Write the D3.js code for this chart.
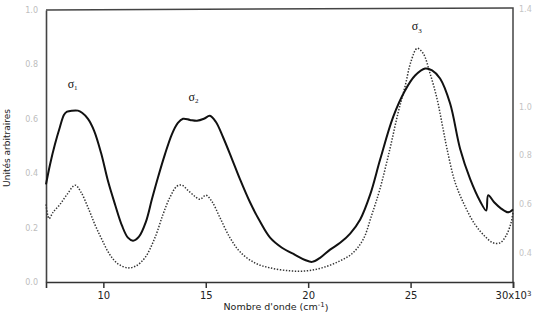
<!DOCTYPE html>
<html>
<head>
<meta charset="utf-8">
<script src="https://cdn.jsdelivr.net/npm/d3@7"></script>
<style>
  body { margin: 0; background: #fff; }
  svg { display: block; }
</style>
</head>
<body>
<svg id="chart" width="535" height="313"></svg>
<script>

// Data (wavenumber in 10^3 cm-1, intensity in arbitrary units)
const solidX = [7.20, 7.40, 7.64, 7.88, 8.08, 8.23, 8.47, 8.76, 8.96, 9.25, 9.55, 9.89, 10.23, 10.57, 10.91, 11.20, 11.45, 11.74, 12.08, 12.37, 12.67, 13.01, 13.35, 13.64, 13.89, 14.23, 14.57, 14.91, 15.20, 15.49, 15.84, 16.28, 16.67, 17.16, 17.65, 18.14, 18.72, 19.36, 19.85, 20.19, 20.58, 21.07, 21.56, 22.05, 22.54, 23.03, 23.52, 24.15, 24.73, 25.22, 25.71, 26.05, 26.44, 26.93, 27.42, 27.91, 28.40, 28.69, 28.79, 29.08, 29.42, 29.76, 30.00];
const solidY = [0.359, 0.433, 0.507, 0.570, 0.615, 0.626, 0.630, 0.630, 0.622, 0.600, 0.556, 0.474, 0.370, 0.285, 0.207, 0.163, 0.152, 0.167, 0.222, 0.304, 0.385, 0.470, 0.544, 0.585, 0.600, 0.596, 0.593, 0.600, 0.611, 0.589, 0.533, 0.452, 0.378, 0.293, 0.222, 0.163, 0.126, 0.100, 0.081, 0.074, 0.089, 0.119, 0.144, 0.178, 0.230, 0.322, 0.452, 0.607, 0.704, 0.759, 0.785, 0.778, 0.748, 0.656, 0.489, 0.378, 0.296, 0.263, 0.319, 0.293, 0.270, 0.256, 0.267];

const dottedX = [7.20, 7.35, 7.54, 7.88, 8.23, 8.62, 8.91, 9.25, 9.59, 9.93, 10.32, 10.71, 11.20, 11.59, 12.03, 12.52, 12.91, 13.25, 13.59, 13.84, 14.13, 14.47, 14.72, 15.01, 15.30, 15.69, 16.18, 16.67, 17.40, 18.14, 19.11, 19.94, 20.67, 21.45, 22.14, 22.68, 23.11, 23.50, 23.99, 24.38, 24.73, 25.02, 25.32, 25.61, 25.95, 26.29, 26.54, 26.78, 27.17, 27.66, 28.15, 28.64, 29.03, 29.37, 29.66, 29.91, 30.00];
const dottedY = [0.285, 0.233, 0.256, 0.285, 0.322, 0.356, 0.330, 0.274, 0.211, 0.156, 0.100, 0.067, 0.052, 0.059, 0.089, 0.163, 0.248, 0.311, 0.352, 0.356, 0.337, 0.315, 0.304, 0.319, 0.296, 0.237, 0.163, 0.111, 0.070, 0.052, 0.041, 0.041, 0.052, 0.074, 0.104, 0.156, 0.248, 0.341, 0.489, 0.619, 0.719, 0.811, 0.859, 0.841, 0.767, 0.674, 0.581, 0.489, 0.367, 0.278, 0.211, 0.167, 0.144, 0.144, 0.170, 0.219, 0.259];

// Ticks and labels
const xTicks = [10, 15, 20, 25, 30];
const leftTicks = [0.0, 0.2, 0.4, 0.6, 0.8, 1.0];
const rightTicks = [0.4, 0.6, 0.8, 1.0, 1.4];
const bandLabels = [
    { sub: "1", x: 8.5, y: 0.715 },
    { sub: "2", x: 14.4, y: 0.665 },
    { sub: "3", x: 25.3, y: 0.925 }
];

// Layout
const svg = d3.select("#chart");
const plot = { left: 46, right: 513, top: 10, bottom: 282 };

const x = d3.scaleLinear().domain([7.2, 30]).range([plot.left, plot.right]);
const y = d3.scaleLinear().domain([0, 1]).range([plot.bottom, plot.top]);
const yRight = d3.scaleLinear().domain([0.4, 1.4]).range([253, 9]);

// Frame (top and right borders)
svg.append("path")
    .attr("d", `M${plot.left},${plot.top}L${plot.right - 3},${plot.top - 2}L${plot.right},${plot.top - 2}L${plot.right},${plot.bottom}`)
    .attr("fill", "none")
    .attr("stroke", "#444")
    .attr("stroke-width", 1.5);

// Bottom axis
const xAxis = svg.append("g")
    .attr("transform", `translate(0,${plot.bottom})`)
    .call(d3.axisBottom(x).tickValues(xTicks).tickSize(6).tickPadding(4)
        .tickFormat(d => d === 30 ? "30x10" : d));
xAxis.select(".domain").attr("stroke", "#333").attr("stroke-width", 1.6);
xAxis.selectAll(".tick line").attr("stroke", "#333").attr("stroke-width", 1.5);
xAxis.selectAll(".tick text")
    .attr("fill", "#222")
    .style("font-family", "DejaVu Sans, sans-serif")
    .style("font-size", "10px");
xAxis.selectAll(".tick text").filter(d => d === 30)
    .append("tspan")
    .attr("dy", "-0.5em")
    .style("font-size", "7px")
    .text("3");

// Left axis
const yAxis = svg.append("g")
    .attr("transform", `translate(${plot.left},0)`)
    .call(d3.axisLeft(y).tickValues(leftTicks).tickSize(0).tickPadding(8)
        .tickFormat(d3.format(".1f")));
yAxis.select(".domain").attr("stroke", "#444").attr("stroke-width", 1.6);
yAxis.selectAll(".tick text")
    .attr("fill", "#bdbdbd")
    .style("font-family", "DejaVu Sans, sans-serif")
    .style("font-size", "8px");

// Right axis labels
const yAxisR = svg.append("g")
    .attr("transform", `translate(${plot.right},0)`)
    .call(d3.axisRight(yRight).tickValues(rightTicks).tickSize(0).tickPadding(6)
        .tickFormat(d3.format(".1f")));
yAxisR.select(".domain").remove();
yAxisR.selectAll(".tick text")
    .attr("fill", "#c4c4c4")
    .style("font-family", "DejaVu Sans, sans-serif")
    .style("font-size", "8px");

// Curves
const line = d3.line()
    .x(d => x(d[0]))
    .y(d => y(d[1]))
    .curve(d3.curveCatmullRom.alpha(0.5));

svg.append("path")
    .datum(dottedX.map((d, i) => [d, dottedY[i]]))
    .attr("d", line)
    .attr("fill", "none")
    .attr("stroke", "#333")
    .attr("stroke-width", 1.5)
    .attr("stroke-dasharray", "1.4,1.6");

svg.append("path")
    .datum(solidX.map((d, i) => [d, solidY[i]]))
    .attr("d", line)
    .attr("fill", "none")
    .attr("stroke", "#111")
    .attr("stroke-width", 2);

// Band labels (sigma)
bandLabels.forEach(b => {
    const t = svg.append("text")
        .attr("x", x(b.x))
        .attr("y", y(b.y))
        .attr("text-anchor", "middle")
        .attr("fill", "#111")
        .style("font-family", "Liberation Serif, serif")
        .style("font-size", "12px")
        .text("σ");
    t.append("tspan")
        .attr("dy", "0.3em")
        .style("font-size", "7px")
        .text(b.sub);
});

// Axis titles
const xTitle = svg.append("text")
    .attr("x", 276)
    .attr("y", 310)
    .attr("text-anchor", "middle")
    .attr("fill", "#222")
    .style("font-family", "DejaVu Sans, sans-serif")
    .style("font-size", "9.5px")
    .text("Nombre d'onde (cm");
xTitle.append("tspan").attr("dy", "-0.5em").style("font-size", "7px").text("-1");
xTitle.append("tspan").attr("dy", "0.5em").text(")");

svg.append("text")
    .attr("transform", "translate(10,148) rotate(-90)")
    .attr("text-anchor", "middle")
    .attr("fill", "#222")
    .style("font-family", "DejaVu Sans, sans-serif")
    .style("font-size", "9px")
    .text("Unités arbitraires");

</script>
</body>
</html>
